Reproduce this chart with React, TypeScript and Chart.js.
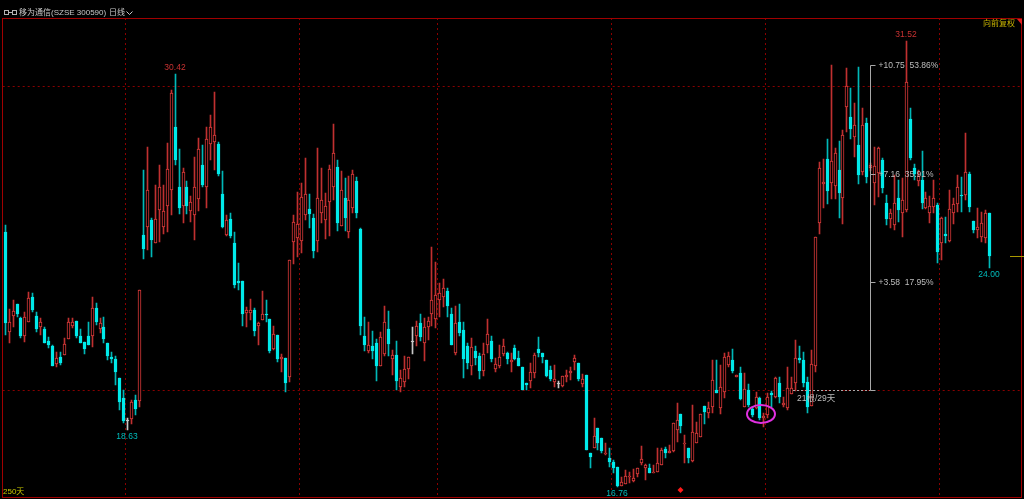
import React, { useEffect, useRef } from 'react';
import { Chart, registerables } from 'chart.js';

Chart.register(...registerables);

const OPEN: number[] = [
  25.20, 21.89, 22.41, 22.80, 22.33, 21.75, 22.22, 23.02, 22.41, 22.06,
  21.97, 21.58, 21.42, 20.82, 21.04, 21.12, 21.64, 22.08, 22.25, 21.75,
  21.56, 21.75, 21.75, 22.66, 21.97, 22.04, 21.53, 21.06, 20.98, 20.37,
  19.71, 18.92, 18.99, 19.63, 19.61, 25.09, 25.34, 25.59, 24.81, 25.92,
  25.34, 26.06, 26.58, 28.67, 26.66, 26.06, 26.66, 25.89, 25.75, 26.28,
  27.41, 26.69, 28.09, 28.15, 28.09, 26.45, 25.09, 25.61, 24.81, 23.57,
  23.57, 22.50, 22.50, 22.61, 22.08, 22.28, 22.48, 22.31, 21.32, 21.78,
  20.98, 21.01, 20.40, 24.85, 25.00, 24.90, 25.75, 25.95, 25.66, 24.90,
  25.81, 25.57, 26.19, 26.69, 27.33, 25.40, 26.30, 25.20, 25.99, 26.88,
  25.29, 21.73, 21.26, 21.40, 21.51, 20.76, 21.14, 21.98, 20.98, 21.12,
  20.07, 20.24, 20.65, 21.56, 21.76, 22.17, 21.51, 22.03, 22.47, 22.30,
  22.94, 23.03, 23.24, 22.48, 21.18, 22.22, 21.93, 21.40, 20.74, 21.25,
  21.10, 20.60, 21.45, 21.58, 20.66, 20.74, 21.14, 21.20, 20.88, 21.34,
  21.01, 20.73, 20.18, 20.26, 20.51, 21.30, 21.20, 20.95, 20.62, 20.24,
  20.15, 20.09, 20.40, 20.51, 20.87, 20.84, 20.15, 20.46, 17.86, 18.05,
  18.71, 18.38, 17.83, 17.70, 17.57, 17.42, 16.80, 16.84, 17.07, 16.95,
  17.17, 17.53, 17.37, 17.37, 17.20, 17.24, 17.48, 18.01, 17.89, 17.94,
  18.64, 19.17, 18.17, 18.05, 17.62, 18.20, 18.41, 19.44, 19.19, 19.39,
  19.96, 19.35, 19.91, 20.79, 20.95, 20.40, 20.53, 19.41, 19.96, 19.32,
  19.35, 19.71, 19.02, 19.13, 19.87, 19.74, 20.20, 19.46, 19.35, 19.82,
  20.18, 21.03, 20.95, 20.24, 19.43, 20.75, 25.50, 26.76, 27.60, 26.80,
  26.71, 27.24, 26.30, 29.31, 29.00, 28.32, 28.06, 27.18, 28.78, 27.29,
  26.82, 27.13, 27.57, 26.13, 25.61, 25.42, 26.30, 25.80, 25.91, 28.91,
  27.32, 26.89, 26.91, 25.97, 25.80, 26.03, 26.08, 24.81, 25.11, 24.89,
  25.80, 26.11, 26.42, 26.41, 27.10, 25.55, 25.25, 25.03, 24.98, 25.80,
];

const HIGH: number[] = [
  25.42, 22.63, 22.94, 22.80, 22.39, 22.55, 23.19, 23.16, 22.55, 22.33,
  22.06, 21.71, 21.45, 21.23, 21.23, 21.67, 22.33, 22.33, 22.25, 21.97,
  21.56, 22.22, 23.05, 22.85, 22.33, 22.37, 21.53, 21.23, 21.09, 20.37,
  19.96, 19.03, 19.63, 19.79, 23.27, 27.24, 27.99, 25.64, 26.74, 27.41,
  26.74, 28.12, 29.89, 30.42, 27.93, 27.30, 26.86, 26.38, 27.66, 28.30,
  28.07, 28.67, 29.06, 29.83, 28.18, 27.20, 25.75, 25.81, 25.18, 24.17,
  23.57, 22.72, 22.96, 22.66, 22.22, 23.24, 22.94, 22.31, 22.09, 21.78,
  21.14, 21.01, 24.26, 25.75, 26.50, 26.80, 27.65, 26.44, 25.79, 27.98,
  27.30, 26.47, 27.41, 28.76, 27.57, 27.21, 26.97, 27.04, 27.24, 27.02,
  25.33, 22.39, 22.20, 21.92, 21.65, 21.89, 22.75, 22.58, 21.29, 21.58,
  20.62, 21.07, 21.04, 22.06, 22.25, 22.48, 22.33, 22.39, 24.68, 24.19,
  23.49, 23.64, 23.33, 22.66, 22.75, 22.80, 22.22, 21.51, 21.67, 21.43,
  21.18, 21.51, 22.31, 21.76, 21.01, 21.45, 21.65, 21.23, 21.20, 21.45,
  21.25, 20.73, 20.18, 20.84, 21.17, 21.70, 21.20, 20.95, 20.75, 20.79,
  20.26, 20.42, 20.62, 20.73, 21.12, 20.84, 20.49, 20.46, 17.86, 19.04,
  18.71, 18.38, 18.22, 18.03, 17.64, 17.42, 17.09, 17.31, 17.26, 17.33,
  17.37, 18.12, 17.50, 17.50, 17.48, 18.05, 18.03, 18.09, 18.14, 18.86,
  19.52, 19.17, 18.47, 18.05, 19.48, 18.91, 19.16, 19.44, 19.57, 20.95,
  20.95, 20.79, 21.17, 21.23, 21.32, 20.44, 20.71, 20.51, 20.16, 19.41,
  19.90, 19.74, 19.19, 19.85, 19.93, 20.40, 20.40, 19.74, 20.73, 20.40,
  21.61, 21.42, 21.23, 20.40, 21.28, 25.01, 27.49, 27.60, 28.26, 30.71,
  27.95, 28.20, 28.56, 30.60, 29.96, 29.44, 30.66, 29.30, 28.95, 27.46,
  28.01, 28.01, 27.62, 26.41, 25.94, 27.07, 26.91, 26.96, 31.52, 29.30,
  27.43, 27.24, 27.87, 26.52, 26.39, 26.91, 26.14, 25.69, 25.69, 26.58,
  26.30, 27.07, 27.02, 28.45, 27.18, 25.55, 25.97, 25.86, 25.91, 25.80,
];

const LOW: number[] = [
  21.78, 21.51, 22.06, 22.39, 21.67, 21.56, 22.20, 22.55, 21.89, 21.78,
  21.51, 21.34, 20.77, 20.73, 20.79, 21.12, 21.64, 22.00, 21.67, 21.53,
  21.14, 21.45, 21.37, 22.11, 21.86, 21.51, 20.95, 20.84, 20.12, 19.30,
  18.87, 18.63, 18.84, 19.13, 19.39, 24.30, 24.59, 24.37, 24.81, 24.87,
  25.12, 25.18, 25.75, 27.41, 25.79, 25.47, 25.79, 25.51, 24.92, 25.87,
  26.69, 25.99, 27.57, 27.24, 27.05, 25.31, 25.06, 24.98, 23.32, 23.27,
  22.09, 22.03, 22.28, 21.74, 21.45, 22.28, 22.22, 21.18, 21.29, 20.88,
  20.55, 19.88, 20.24, 24.12, 24.37, 24.48, 25.59, 25.33, 24.32, 24.52,
  25.48, 24.96, 25.07, 26.25, 25.23, 25.40, 25.23, 24.98, 25.80, 25.66,
  21.78, 21.25, 21.18, 20.97, 20.27, 20.76, 21.09, 21.07, 20.44, 19.96,
  19.91, 20.07, 20.32, 21.14, 21.43, 21.58, 20.92, 21.62, 22.09, 22.00,
  22.39, 22.72, 22.39, 21.45, 21.12, 21.73, 20.35, 20.66, 20.46, 20.79,
  20.33, 20.43, 21.20, 20.90, 20.55, 20.68, 21.09, 20.81, 20.57, 20.95,
  20.75, 19.96, 19.96, 20.02, 20.35, 21.06, 20.84, 20.40, 20.26, 20.07,
  20.04, 20.07, 20.24, 20.29, 20.62, 20.26, 20.07, 17.99, 17.37, 18.05,
  17.97, 17.86, 17.81, 17.40, 17.23, 16.76, 16.78, 16.84, 16.87, 16.91,
  17.09, 17.48, 16.98, 17.20, 17.20, 17.24, 17.48, 17.70, 17.89, 17.92,
  18.25, 18.53, 17.53, 17.56, 17.59, 18.20, 18.41, 18.83, 19.02, 19.19,
  19.85, 19.17, 19.68, 20.73, 20.53, 20.40, 19.63, 19.41, 19.41, 19.08,
  19.32, 18.97, 18.75, 19.02, 19.41, 19.68, 19.52, 19.41, 19.30, 19.82,
  19.93, 20.84, 20.07, 19.21, 19.43, 20.57, 25.12, 25.99, 26.11, 26.27,
  26.27, 25.66, 25.44, 28.51, 28.26, 27.68, 26.77, 27.07, 26.80, 27.20,
  26.08, 26.36, 26.47, 25.42, 25.31, 25.25, 25.51, 25.03, 25.86, 27.57,
  26.91, 26.72, 25.95, 25.95, 25.47, 25.83, 24.15, 24.26, 24.81, 24.87,
  25.44, 25.86, 25.86, 26.25, 25.86, 25.14, 24.98, 24.87, 24.81, 24.00,
];

const CLOSE: number[] = [
  22.19, 22.20, 22.58, 22.48, 21.75, 22.36, 22.99, 22.61, 21.97, 22.20,
  21.51, 21.45, 20.77, 21.01, 20.86, 21.47, 22.22, 22.21, 21.75, 21.53,
  21.31, 21.45, 22.66, 22.22, 22.19, 21.64, 21.09, 20.98, 20.54, 19.55,
  18.93, 18.92, 19.57, 19.33, 23.27, 24.62, 26.58, 24.93, 25.61, 26.69,
  25.89, 27.27, 29.78, 27.57, 25.99, 27.16, 26.06, 26.17, 26.69, 27.94,
  26.74, 28.27, 28.65, 28.40, 27.11, 25.36, 25.59, 25.04, 23.44, 23.49,
  22.47, 22.61, 22.61, 21.91, 22.19, 22.47, 22.45, 21.25, 21.81, 20.98,
  21.06, 20.18, 24.26, 25.53, 25.45, 26.33, 26.44, 25.79, 24.56, 26.30,
  26.23, 26.06, 27.27, 27.79, 25.50, 26.58, 25.66, 26.25, 27.10, 25.83,
  22.09, 21.45, 21.45, 21.25, 20.76, 21.71, 22.22, 21.47, 21.12, 20.26,
  20.37, 20.65, 21.04, 21.56, 22.09, 21.71, 22.06, 22.25, 22.94, 23.11,
  23.16, 23.33, 22.75, 21.45, 22.17, 21.86, 20.98, 20.85, 21.37, 21.03,
  20.59, 21.14, 21.81, 20.99, 20.82, 21.04, 21.40, 20.98, 20.95, 20.97,
  20.75, 19.96, 20.12, 20.54, 21.12, 21.17, 21.06, 20.43, 20.31, 20.31,
  20.15, 20.42, 20.46, 20.59, 21.01, 20.31, 20.31, 17.99, 17.73, 18.45,
  18.20, 17.94, 17.88, 17.57, 17.37, 16.80, 16.90, 17.13, 17.11, 17.06,
  17.37, 17.67, 17.48, 17.22, 17.26, 17.56, 17.97, 17.86, 17.95, 18.86,
  18.97, 18.77, 18.22, 17.70, 18.58, 18.53, 19.16, 19.22, 19.35, 20.29,
  19.85, 20.05, 21.06, 21.08, 20.59, 20.44, 19.66, 19.98, 19.46, 19.13,
  19.72, 19.02, 19.10, 19.74, 19.80, 20.37, 19.72, 19.54, 20.02, 20.02,
  21.01, 20.95, 20.18, 19.41, 20.81, 25.01, 27.29, 26.83, 26.55, 27.55,
  27.79, 26.49, 28.40, 30.02, 28.59, 28.73, 27.07, 28.73, 27.02, 27.40,
  27.38, 27.98, 26.65, 25.61, 25.83, 26.16, 25.91, 26.25, 30.14, 27.63,
  27.11, 27.04, 26.14, 26.30, 26.05, 26.32, 24.54, 25.66, 25.07, 25.95,
  26.11, 26.69, 26.39, 27.18, 26.03, 25.25, 25.34, 25.50, 25.80, 24.39,
];

// Text content
const TITLE = '移为通信(SZSE 300590)';
const PERIOD = '日线';
const ADJUST = '向前复权';
const COUNT_LABEL = '250天';

// Month separators (between candle indices) and horizontal grid prices
const MONTH_BREAKS = [30.5, 74.5, 109.5, 153.5, 192.5, 236.5];
const GRID_PRICES = [30.02, 19.96];

// Extreme price labels
const EXT_INDEX = [43, 228, 31, 155, 249];
const EXT_VALUE = [30.42, 31.52, 18.63, 16.76, 24.0];
const EXT_IS_HIGH = [true, true, false, false, false];

// Measurement tool
const MEASURE_BASE = 19.96;
const MEASURE_STEPS = [10.75, 7.16, 3.58];
const MEASURE_PCT = ['53.86%', '35.91%', '17.95%'];
const MEASURE_FROM = 199.5;
const MEASURE_AT = 219;
const MEASURE_TEXT = '21根/29天';

// Markers
const MARK_INDEX = 171;
const ELLIPSE_INDEX = 191.3;
const ELLIPSE_PRICE = 19.17;

const UP = '#dc3a3a';
const UP_WICK = '#c03030';
const DOWN = '#00eaea';
const DOWN_WICK = '#00b8b8';
const FLAT = '#c8c8c8';

const INDEX = OPEN.map((_, i) => i);
const colorOf = (i: number) => (CLOSE[i] > OPEN[i] ? UP : CLOSE[i] < OPEN[i] ? DOWN : FLAT);
const wickOf = (i: number) => (CLOSE[i] > OPEN[i] ? UP_WICK : CLOSE[i] < OPEN[i] ? DOWN_WICK : FLAT);

const NUM_FONT = '8.5px "Liberation Sans", "Noto Sans CJK SC", sans-serif';
const CJK_FONT = '8px "Liberation Sans", "Noto Sans CJK SC", sans-serif';

const overlay = {
  id: 'overlay',
  beforeDatasetsDraw(chart: any) {
    const { ctx, chartArea: a, scales } = chart;
    const x = scales.x;
    const y = scales.y;
    ctx.save();
    ctx.strokeStyle = '#8a0000';
    ctx.lineWidth = 1;
    ctx.setLineDash([2, 3]);
    for (const v of MONTH_BREAKS) {
      const px = Math.round(x.getPixelForValue(v)) + 0.5;
      ctx.beginPath();
      ctx.moveTo(px, a.top);
      ctx.lineTo(px, a.bottom);
      ctx.stroke();
    }
    for (const p of GRID_PRICES) {
      const py = Math.round(y.getPixelForValue(p)) + 0.5;
      ctx.beginPath();
      ctx.moveTo(a.left, py);
      ctx.lineTo(a.right, py);
      ctx.stroke();
    }
    ctx.restore();
    // shift candles by half a pixel so that pixel-aligned centres give crisp 1px / 3px marks
    ctx.save();
    ctx.translate(0.5, 0);
  },
  afterDatasetsDraw(chart: any) {
    const { ctx, chartArea: a, scales } = chart;
    ctx.restore();
    const x = scales.x;
    const y = scales.y;
    ctx.save();

    // frame
    ctx.strokeStyle = '#a00000';
    ctx.lineWidth = 1;
    ctx.setLineDash([]);
    ctx.strokeRect(2.5, 18.5, 1019, 479);

    // top-right corner triangle
    ctx.fillStyle = '#e02020';
    ctx.beginPath();
    ctx.moveTo(1017, 19);
    ctx.lineTo(1022, 19);
    ctx.lineTo(1022, 25);
    ctx.closePath();
    ctx.fill();

    // header icon
    ctx.strokeStyle = '#b4b4b4';
    ctx.strokeRect(4.5, 10.5, 4, 4);
    ctx.strokeRect(12.5, 10.5, 4, 4);
    ctx.beginPath();
    ctx.moveTo(8.5, 12.5);
    ctx.lineTo(12.5, 12.5);
    ctx.stroke();

    // header texts
    ctx.fillStyle = '#c8c8c8';
    ctx.textBaseline = 'middle';
    ctx.textAlign = 'left';
    ctx.font = CJK_FONT;
    ctx.fillText(TITLE, 19, 13);
    ctx.fillText(PERIOD, 109, 13);
    ctx.strokeStyle = '#c8c8c8';
    ctx.beginPath();
    ctx.moveTo(126.5, 11.5);
    ctx.lineTo(129.5, 14.5);
    ctx.lineTo(132.5, 11.5);
    ctx.stroke();

    ctx.fillStyle = '#c8b400';
    ctx.textAlign = 'right';
    ctx.fillText(ADJUST, 1015, 24);
    ctx.textAlign = 'left';
    ctx.fillStyle = '#c8c800';
    ctx.fillText(COUNT_LABEL, 3, 492);

    // extreme labels
    ctx.font = NUM_FONT;
    ctx.textAlign = 'center';
    for (let k = 0; k < EXT_INDEX.length; k++) {
      const px = x.getPixelForValue(EXT_INDEX[k]);
      const py = y.getPixelForValue(EXT_VALUE[k]);
      ctx.fillStyle = EXT_IS_HIGH[k] ? '#c83232' : '#00bcbc';
      ctx.fillText(EXT_VALUE[k].toFixed(2), px, EXT_IS_HIGH[k] ? py - 6 : py + 7);
    }

    // measurement tool
    const mx = Math.round(x.getPixelForValue(MEASURE_AT)) + 0.5;
    const yBase = Math.round(y.getPixelForValue(MEASURE_BASE)) + 0.5;
    const yTop = Math.round(y.getPixelForValue(MEASURE_BASE + MEASURE_STEPS[0])) + 0.5;
    ctx.strokeStyle = '#a8a8a8';
    ctx.beginPath();
    ctx.moveTo(mx, yTop);
    ctx.lineTo(mx, yBase);
    ctx.stroke();
    ctx.fillStyle = '#bebebe';
    ctx.textAlign = 'left';
    for (let k = 0; k < MEASURE_STEPS.length; k++) {
      const yy = Math.round(y.getPixelForValue(MEASURE_BASE + MEASURE_STEPS[k])) + 0.5;
      ctx.beginPath();
      ctx.moveTo(mx, yy);
      ctx.lineTo(mx + 5, yy);
      ctx.stroke();
      ctx.fillText('+' + MEASURE_STEPS[k].toFixed(2) + '  ' + MEASURE_PCT[k], mx + 8, yy);
    }
    ctx.beginPath();
    ctx.moveTo(mx, yBase);
    ctx.lineTo(mx + 5, yBase);
    ctx.stroke();
    const fx = x.getPixelForValue(MEASURE_FROM);
    ctx.setLineDash([2, 2]);
    ctx.beginPath();
    ctx.moveTo(fx, yBase);
    ctx.lineTo(mx, yBase);
    ctx.stroke();
    ctx.setLineDash([]);
    ctx.fillText(MEASURE_TEXT, fx + 4, yBase + 8);

    // magenta ellipse
    ctx.strokeStyle = '#e030e0';
    ctx.lineWidth = 2;
    ctx.beginPath();
    ctx.ellipse(x.getPixelForValue(ELLIPSE_INDEX), y.getPixelForValue(ELLIPSE_PRICE), 14, 9, 0, 0, Math.PI * 2);
    ctx.stroke();

    // red diamond marker
    const dx = Math.round(x.getPixelForValue(MARK_INDEX)) + 0.5;
    const dy = a.bottom - 7;
    ctx.fillStyle = '#ff1a1a';
    ctx.beginPath();
    ctx.moveTo(dx, dy - 3);
    ctx.lineTo(dx + 3, dy);
    ctx.lineTo(dx, dy + 3);
    ctx.lineTo(dx - 3, dy);
    ctx.closePath();
    ctx.fill();

    // last close marker
    const ly = Math.round(y.getPixelForValue(CLOSE[CLOSE.length - 1])) + 0.5;
    ctx.strokeStyle = '#a89800';
    ctx.lineWidth = 1;
    ctx.beginPath();
    ctx.moveTo(1010, ly);
    ctx.lineTo(1024, ly);
    ctx.stroke();

    ctx.restore();
  },
};

export default function App() {
  const ref = useRef<HTMLCanvasElement>(null);
  useEffect(() => {
    document.body.style.margin = '0';
    document.body.style.background = '#000';
    document.documentElement.style.background = '#000';
    const chart = new Chart(ref.current as HTMLCanvasElement, {
      type: 'bar',
      data: {
        datasets: [
          {
            label: 'body',
            order: 0,
            data: INDEX.map((i) => ({ x: i, y: [OPEN[i], CLOSE[i]] })),
            backgroundColor: INDEX.map((i) => (CLOSE[i] > OPEN[i] ? '#000000' : colorOf(i))),
            borderColor: INDEX.map(colorOf),
            borderWidth: 1,
            borderSkipped: false,
            barThickness: 3,
            minBarLength: 1,
            grouped: false,
          } as any,
          {
            label: 'wick',
            order: 1,
            data: INDEX.map((i) => ({ x: i, y: [LOW[i], HIGH[i]] })),
            backgroundColor: INDEX.map(wickOf),
            borderWidth: 0,
            barThickness: 1,
            grouped: false,
          } as any,
        ],
      },
      options: {
        animation: false,
        responsive: false,
        events: [],
        layout: { padding: { left: 2.7, right: 1.7, top: 18, bottom: 2 } },
        scales: {
          x: { type: 'linear', min: -0.5, max: 257.5, offset: false, display: false, alignToPixels: true },
          y: { type: 'linear', min: 16.42, max: 32.266, display: false, alignToPixels: true },
        },
        plugins: { legend: { display: false }, tooltip: { enabled: false } },
      } as any,
      plugins: [overlay],
    });
    return () => chart.destroy();
  }, []);
  return (
    <canvas
      ref={ref}
      width={1024}
      height={499}
      style={{ display: 'block', background: '#000', width: '1024px', height: '499px' }}
    />
  );
}
